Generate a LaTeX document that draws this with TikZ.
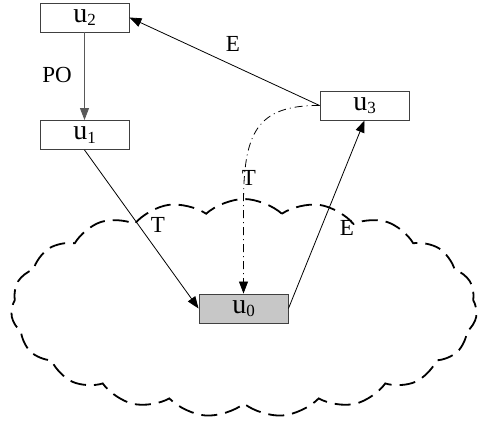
\documentclass[tikz,border=0pt]{standalone}
\usepackage{fontspec}
\setmainfont{Liberation Serif}
\usetikzlibrary{arrows.meta,shapes.symbols}
\newcommand{\usub}[1]{{\fontsize{28}{29}\selectfont u}\raisebox{-3.5pt}{\fontsize{17}{17}\selectfont #1}}
\begin{document}
\begin{tikzpicture}[x=1pt,y=-1pt,
  box/.style={draw=black!75, line width=0.9pt, minimum width=89pt, minimum height=29pt, inner sep=0pt},
  lbl/.style={font=\fontsize{23}{25}\selectfont, inner sep=0pt},
  arr/.style={line width=0.8pt, -{Triangle[length=12pt,width=9pt]}},
  cloudy/.style={cloud, draw, cloud puffs=19, cloud puff arc=85, aspect=2.1, minimum width=466pt, minimum height=218pt, line width=1.8pt, dash pattern=on 16pt off 8pt}
]
\useasboundingbox (0,0) rectangle (478,425);
\node[cloudy] (cl) at (244,308) {};
\node[box] (u2) at (84.5,17.5) {\usub{2}};
\node[box] (u1) at (84.5,135) {\usub{1}};
\node[box] (u3) at (364.5,105.5) {\usub{3}};
\node[box, fill=black!22] (u0) at (243.5,308.5) {\usub{0}};
\coordinate (tb) at (243.5,205);
\draw[arr, draw=black!65] (u2.south) -- (u1.north);
\draw[arr] (u3.west) -- (u2.east);
\draw[arr] (u1.south) -- (u0.west);
\draw[arr] (u0.east) -- (u3.south);
\draw[arr, dash pattern=on 8pt off 4pt on 1pt off 4pt] (u3.west) .. controls (255,105) and (243.5,135) .. (tb) -- (u0.north);
\node[lbl] (lpo) at (57,75) {PO};
\node[lbl] (le1) at (233,44) {E};
\node[lbl] (lt1) at (158,225) {T};
\node[lbl] (lt2) at (249,178) {T};
\node[lbl] (le2) at (347,228) {E};
\end{tikzpicture}
\end{document}
